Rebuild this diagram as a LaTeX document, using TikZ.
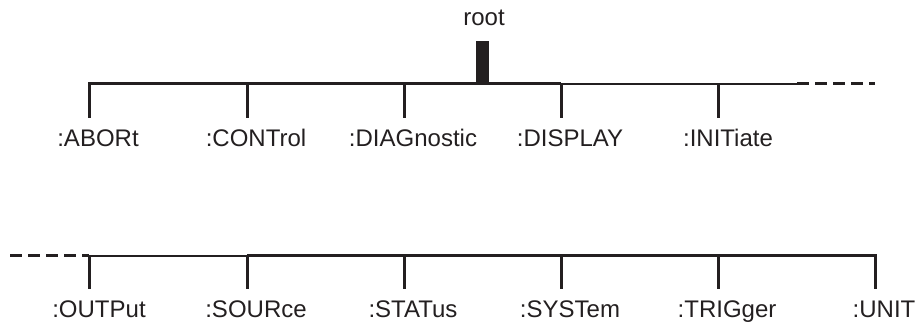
\documentclass[tikz,border=0pt]{standalone}
\usepackage{fontspec}
\setmainfont{Liberation Sans}
\definecolor{ink}{HTML}{231F20}
\tikzset{
  cmd/.style={anchor=base, inner sep=0pt, text=ink, font=\fontsize{12}{14}\selectfont},
  busthick/.style={draw=ink, line width=1.5pt},
  busthin/.style={draw=ink, line width=0.6pt},
  busdash/.style={draw=ink, line width=1.5pt, dash pattern=on 6pt off 3pt}
}
\begin{document}
\begin{tikzpicture}[x=0.5pt, y=-0.5pt]
\useasboundingbox (0,0) rectangle (920,325);
% root
\node[cmd] (root) at (484,26) {root};
\node[fill=ink, inner sep=0pt, minimum width=6.5pt, minimum height=21.5pt] (bar) at (482.5,63) {};
% upper row
\coordinate (b1) at (89,84);
\coordinate (b2) at (247,84);
\coordinate (b3) at (404,84);
\coordinate (b4) at (561,84);
\coordinate (b5) at (718,84);
\coordinate (d1) at (797,84);
\coordinate (d2) at (875,84);
\coordinate (e1) at (89,118);
\coordinate (e2) at (247,118);
\coordinate (e3) at (404,118);
\coordinate (e4) at (561,118);
\coordinate (e5) at (718,118);
\node[cmd] (abort) at (98,147) {:ABORt};
\node[cmd] (control) at (256,147) {:CONTrol};
\node[cmd] (diag) at (413,147) {:DIAGnostic};
\node[cmd] (display) at (570,147) {:DISPLAY};
\node[cmd] (init) at (728,147) {:INITiate};
\draw[busthick] (e1) -- (b1) -- (b4);
\draw[busthin] (b4) -- (d1);
\draw[busdash] (d1) -- (d2);
\draw[busthick] (b2) -- (e2);
\draw[busthick] (b3) -- (e3);
\draw[busthick] (b4) -- (e4);
\draw[busthick] (b5) -- (e5);
% lower row
\coordinate (c0) at (10,256);
\coordinate (c1) at (89,256);
\coordinate (c2) at (247,256);
\coordinate (c3) at (404,256);
\coordinate (c4) at (561,256);
\coordinate (c5) at (718,256);
\coordinate (c6) at (875,256);
\coordinate (f1) at (89,289);
\coordinate (f2) at (247,289);
\coordinate (f3) at (404,289);
\coordinate (f4) at (561,289);
\coordinate (f5) at (718,289);
\coordinate (f6) at (875,289);
\node[cmd] (output) at (99,318) {:OUTPut};
\node[cmd] (source) at (256,318) {:SOURce};
\node[cmd] (status) at (413,318) {:STATus};
\node[cmd] (system) at (570,318) {:SYSTem};
\node[cmd] (trigger) at (727,318) {:TRIGger};
\node[cmd] (unit) at (884,318) {:UNIT};
\draw[busdash] (c0) -- (c1);
\draw[busthin] (c1) -- (c2);
\draw[busthick] (c2) -- (c6) -- (f6);
\draw[busthick] (c1) -- (f1);
\draw[busthick] (c2) -- (f2);
\draw[busthick] (c3) -- (f3);
\draw[busthick] (c4) -- (f4);
\draw[busthick] (c5) -- (f5);
\end{tikzpicture}
\end{document}
